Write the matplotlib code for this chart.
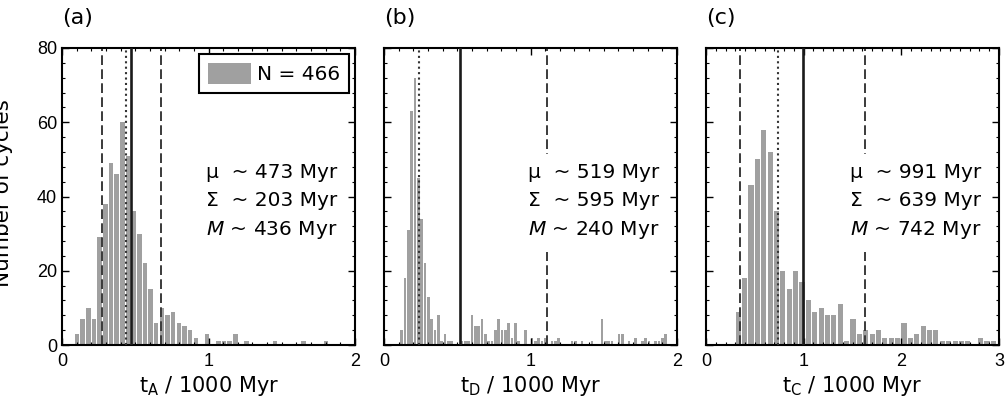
"""
Histograms of cycle durations t_A, t_D, t_C
"""

# LIBRARY

import numpy as np
import matplotlib
matplotlib.use("Agg")
import matplotlib.pyplot as plt
from matplotlib.ticker import MultipleLocator

plt.rcParams['font.family'] = ['Liberation Sans', 'DejaVu Sans']
plt.rcParams['mathtext.fontset'] = 'custom'
plt.rcParams['mathtext.rm'] = 'DejaVu Sans'
plt.rcParams['mathtext.it'] = 'DejaVu Sans:italic'

WIDE = ['DejaVu Sans']

# DATA

# panel (a): t_A
start_a = 0.1027
width_a = 0.0386
counts_a = [3, 7, 10, 7, 29, 38, 49, 46, 60, 51, 36, 30, 22, 15, 6, 10, 8, 9, 6, 5,
            4, 2, 0, 3, 0, 1, 1, 1, 3, 0, 1, 0, 0, 0, 0, 1, 0, 0, 0, 0,
            1, 0, 0, 0, 1]

# panel (b): t_D
start_b = 0.121
width_b = 0.0228
counts_b = [4, 18, 31, 63, 72, 45, 34, 22, 13, 7, 4, 8, 1, 3, 1, 1, 0, 0, 1, 1,
            1, 8, 5, 5, 7, 3, 1, 1, 4, 7, 4, 4, 6, 2, 6, 1, 0, 4, 0, 2,
            1, 2, 1, 2, 0, 1, 1, 2, 0, 0, 0, 1, 1, 0, 1, 0, 0, 1, 0, 0,
            7, 1, 1, 1, 0, 3, 3, 0, 1, 0, 2, 0, 1, 2, 1, 0, 1, 1, 2, 3]

# panel (c): t_C
start_c = 0.33
width_c = 0.0653
counts_c = [9, 18, 43, 50, 58, 52, 36, 20, 15, 20, 17, 12, 9, 10, 8, 8, 11, 1, 7, 3,
            4, 3, 4, 2, 2, 2, 6, 2, 3, 5, 4, 4, 1, 1, 1, 1, 1, 0, 2, 1, 1]

# mean, spread, median in units of 1000 Myr
stats_a = (0.473, 0.203, 0.436)
stats_b = (0.519, 0.595, 0.240)
stats_c = (0.991, 0.639, 0.742)

panel_labels = ['(a)', '(b)', '(c)']
x_labels = ['t$_\\mathrm{A}$ / 1000 Myr', 't$_\\mathrm{D}$ / 1000 Myr', 't$_\\mathrm{C}$ / 1000 Myr']
x_limits = [2, 2, 3]
n_total = 466

# FIGURE

fig = plt.figure(figsize=(10.06, 4.07), dpi=100)
lefts = [62 / 1006, 384 / 1006, 706 / 1006]
bottom = 62 / 407
height = 297 / 407
width = 293 / 1006

panels = [(start_a, width_a, counts_a, stats_a),
          (start_b, width_b, counts_b, stats_b),
          (start_c, width_c, counts_c, stats_c)]

for i, (start, w, counts, stats) in enumerate(panels):
    ax = fig.add_axes([lefts[i], bottom, width, height])
    centers = start + w * np.arange(len(counts))
    bars = ax.bar(centers, counts, width=0.8 * w, color='#a0a0a0', edgecolor='none',
                  zorder=1, label='N = ' + str(n_total))

    mu, sig, med = stats
    ax.axvline(mu, color='#1a1a1a', lw=1.9, zorder=3)
    ax.axvline(med, color='#333333', lw=1.5, linestyle=(0, (1, 1.6)), zorder=3)
    for d in (mu - sig, mu + sig):
        if 0 < d < x_limits[i]:
            ax.axvline(d, color='#3a3a3a', lw=1.4, linestyle=(0, (5, 2.2)), zorder=2)

    txt = ('\u03bc  ~ %d Myr\n\u03a3  ~ %d Myr\n$\\mathit{M}$ ~ %d Myr'
           % (round(mu * 1000), round(sig * 1000), round(med * 1000)))
    ax.text(0.94, 0.482, txt, transform=ax.transAxes, ha='right', va='center',
            multialignment='right', fontsize=14.5, family=WIDE, linespacing=1.58, zorder=4,
            bbox=dict(facecolor='white', edgecolor='none', pad=8))

    ax.set_xlim(0, x_limits[i])
    ax.set_ylim(0, 80)
    ax.xaxis.set_major_locator(MultipleLocator(1))
    ax.xaxis.set_minor_locator(MultipleLocator(0.1))
    ax.yaxis.set_major_locator(MultipleLocator(20))
    ax.yaxis.set_minor_locator(MultipleLocator(4))
    ax.tick_params(which='both', direction='in', top=True, right=True, labelsize=13)
    ax.tick_params(which='major', length=5, width=1)
    ax.tick_params(which='minor', length=2.5, width=0.8)
    ax.tick_params(axis='x', pad=6)
    for s in ax.spines.values():
        s.set_linewidth(1.5)
    if i > 0:
        ax.set_yticklabels([])
    ax.set_xlabel(x_labels[i], fontsize=15, family=WIDE, labelpad=3)
    fig.text(lefts[i], 1 - 18 / 407, panel_labels[i], fontsize=16, family=WIDE,
             ha='left', va='center')

    if i == 0:
        leg = ax.legend(handles=[bars], loc='upper right', fancybox=False,
                        prop={'family': WIDE, 'size': 14.5},
                        handlelength=2.1, handleheight=1.2, borderaxespad=0.3,
                        borderpad=0.45, handletextpad=0.3, framealpha=1)
        leg.get_frame().set_edgecolor('black')
        leg.get_frame().set_linewidth(1.5)

fig.text(0.003, 0.525, 'Number of cycles', rotation=90, fontsize=15.5, family=WIDE,
         ha='center', va='center')

fig.savefig('out.png', dpi=100)
